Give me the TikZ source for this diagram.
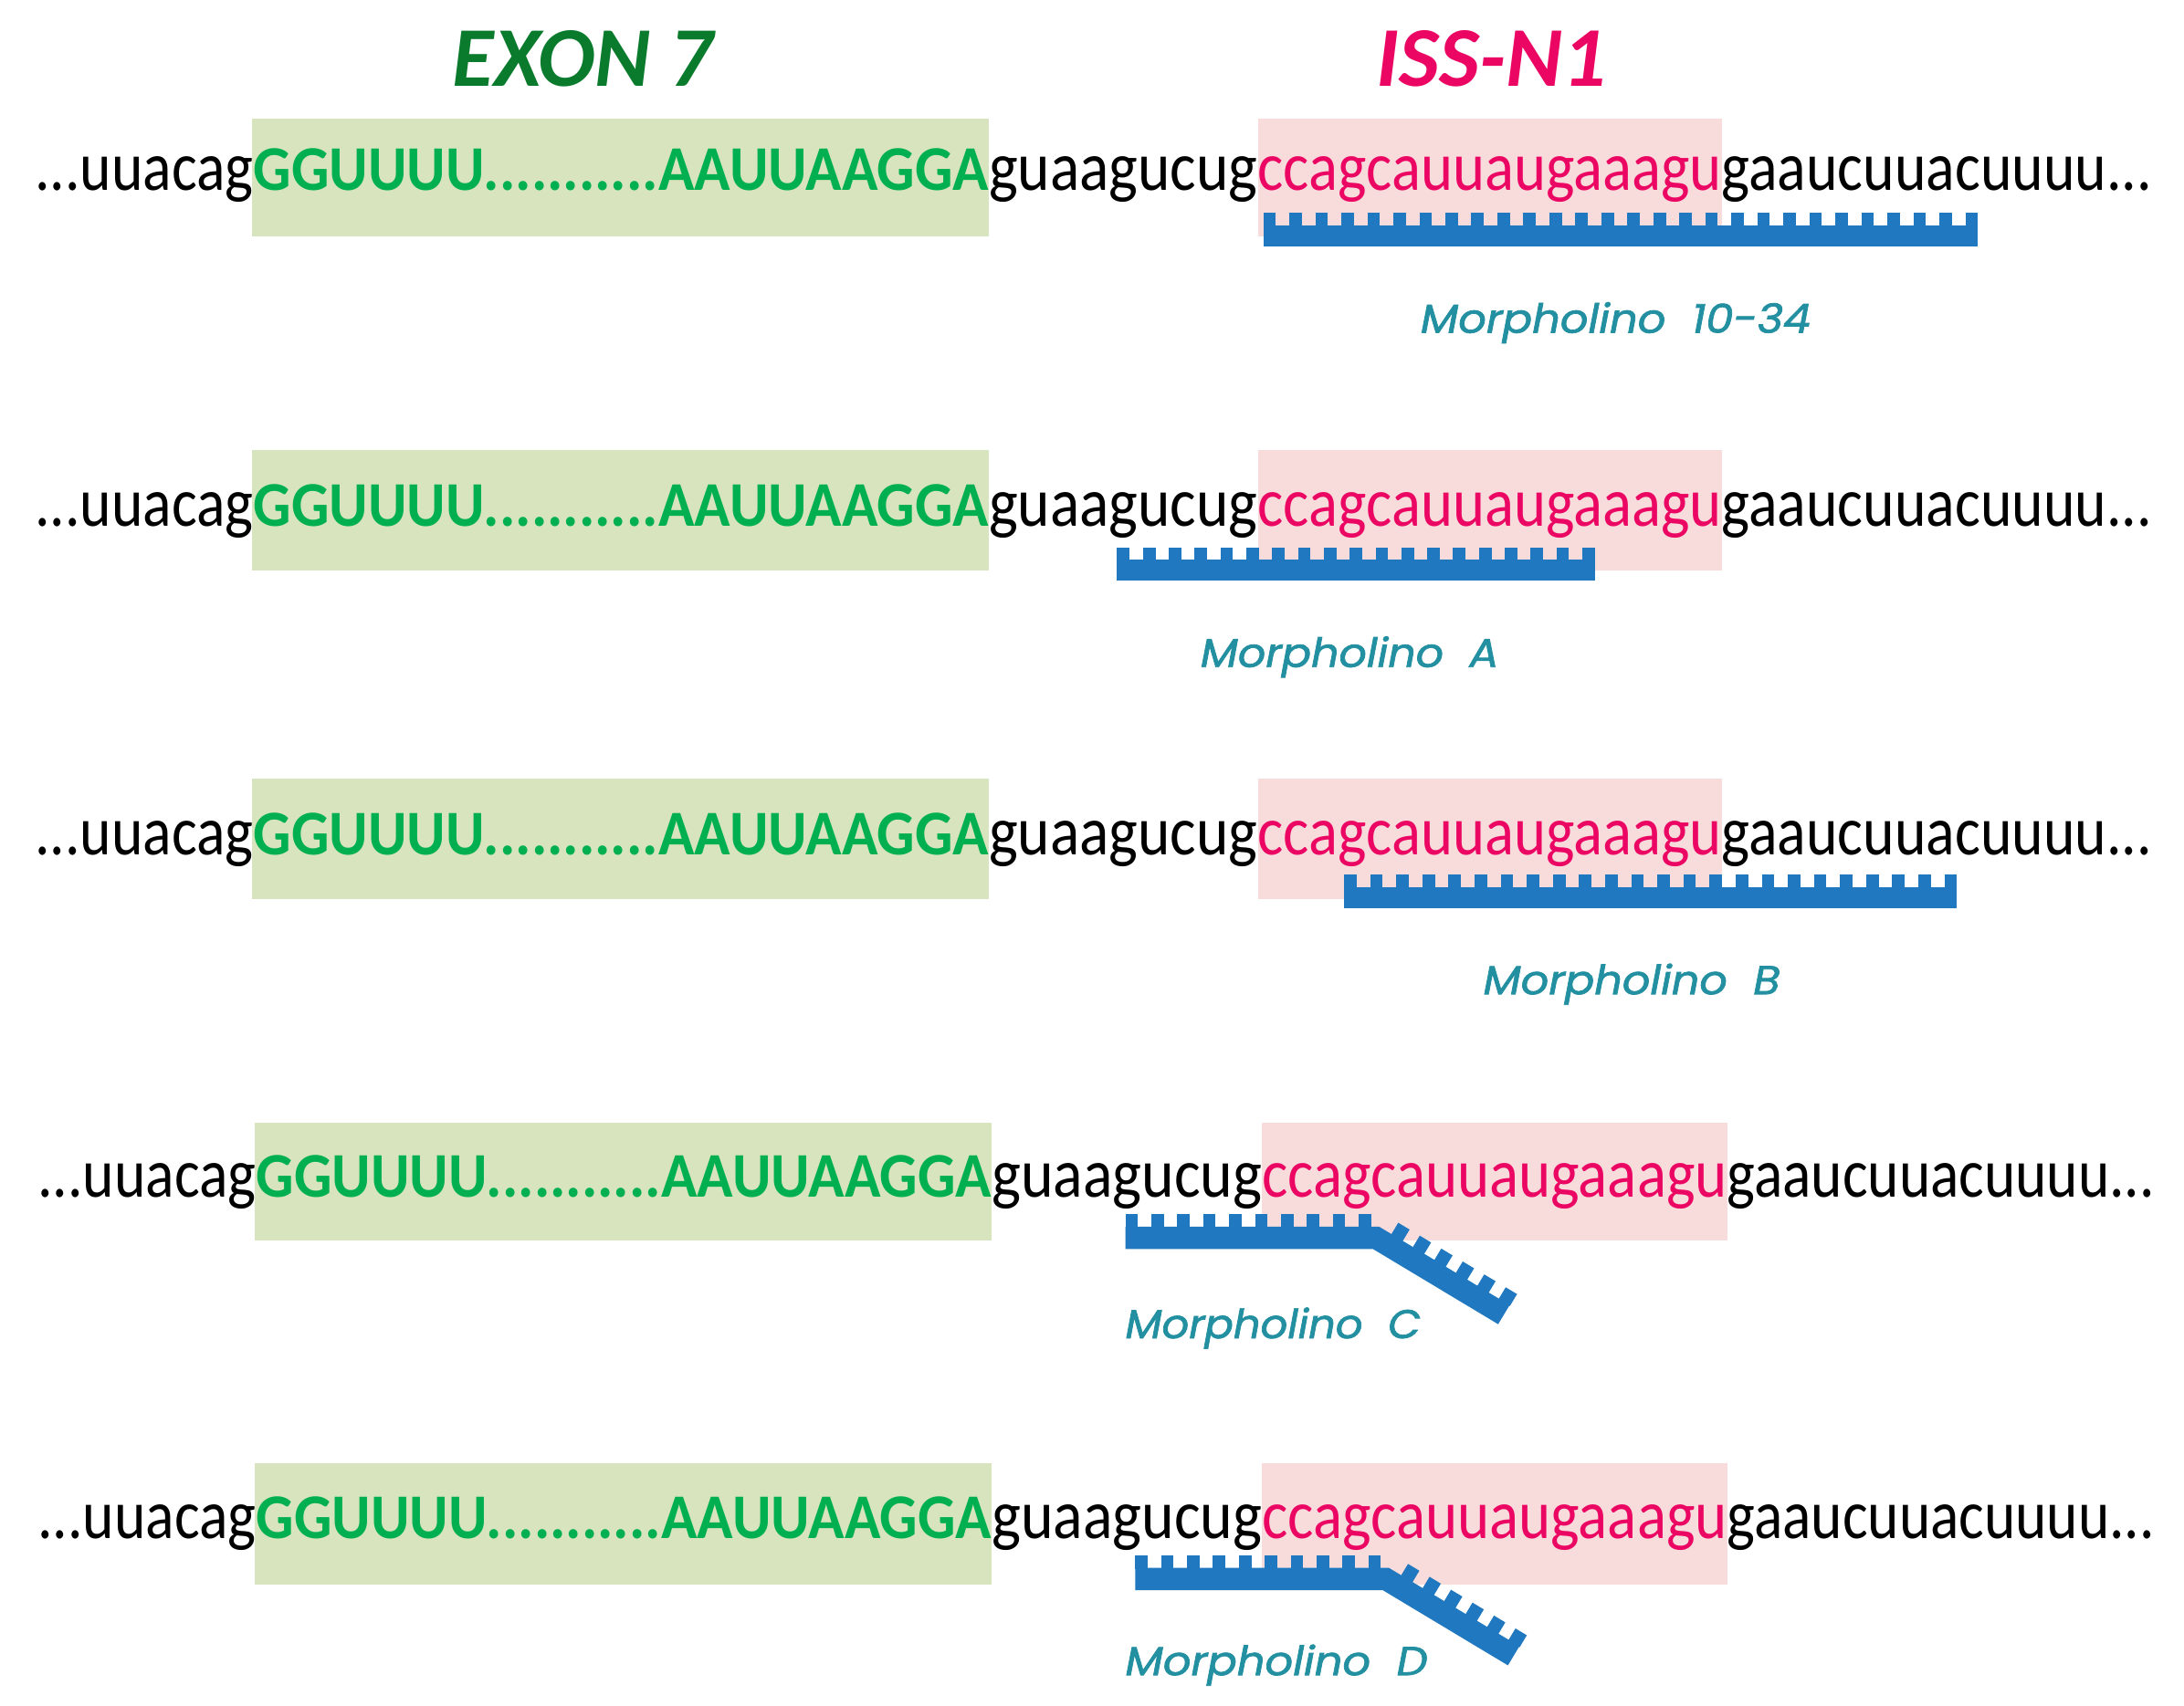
\documentclass[tikz,border=0pt]{standalone}
\usepackage{fontspec}
\usepackage{graphicx}
\setmainfont{Carlito}
\newfontfamily\lblfont[FakeBold=1.6]{Poppins}
\definecolor{exgreen}{HTML}{D7E4BD}
\definecolor{isspink}{HTML}{F8DCDC}
\definecolor{seqgreen}{HTML}{00B050}
\definecolor{seqpink}{HTML}{EC0663}
\definecolor{titgreen}{HTML}{0A7A2C}
\definecolor{morblue}{HTML}{1F78C0}
\definecolor{lblteal}{HTML}{2390A2}
\tikzset{
  seg/.style={anchor=base west, inner sep=0pt, outer sep=0pt},
  gbox/.style={fill=exgreen},
  pbox/.style={fill=isspink},
  morph/.style={fill=morblue},
  blk/.style={text=black},
  grn/.style={font=\bfseries, text=seqgreen},
  pnk/.style={text=seqpink},
  lbl/.style={font=\lblfont\itshape, text=lblteal},
}
% name, xl, xr, baseline, cap height, style, text
\newcommand\txtseg[7]{%
  \pgfmathsetlengthmacro\segW{(#3-#2)*0.015cm}%
  \pgfmathsetlengthmacro\segH{#5*0.015cm}%
  \node[seg, #6] (#1) at (#2,#4) {\resizebox{\segW}{\segH}{\vphantom{H}#7}};%
}
% id, baseline, six x boundaries
\newcommand\seqrow[8]{%
  \txtseg{s#1a}{#3}{#4}{#2}{32}{blk}{...uuacag}
  \txtseg{s#1b}{#4}{#5}{#2}{30}{grn}{GGUUUU...........AAUUAAGGA}
  \txtseg{s#1c}{#5}{#6}{#2}{32}{blk}{guaagucug}
  \txtseg{s#1d}{#6}{#7}{#2}{32}{pnk}{ccagcauuaugaaagu}
  \txtseg{s#1e}{#7}{#8}{#2}{32}{blk}{gaaucuuacuuuu...}
}
% straight morpholino: x0, x1, teeth top, number of teeth
\newcommand\morbar[4]{%
  \fill[morph] (#1,#3+9) rectangle (#2,#3+24);
  \pgfmathsetmacro\pitch{(#2-#1-9)/(#4-1)}%
  \pgfmathtruncatemacro\nlast{#4-1}%
  \foreach \i in {0,...,\nlast}{\fill[morph] ({#1+\i*\pitch},#3) rectangle ++(9,10);}
}
% bent morpholino: x0, xb, yc, angle, L2
\newcommand\bentbar[5]{%
  \draw[morblue, line width=0.24cm, line join=miter] (#1,#3) -- (#2,#3) -- ++(#4:#5);
  \foreach \i in {0,...,9}{\fill[morph] ({#1+\i*18.6},#3-17) rectangle ++(9,10);}
  \begin{scope}[shift={(#2,#3)}, rotate=-#4]
    \pgfmathsetmacro\dpitch{(#5-17)/5}%
    \foreach \j in {0,...,5}{\fill[morph] ({8+\j*\dpitch},-17.5) rectangle ++(9.5,10);}
  \end{scope}
}
\begin{document}
\begin{tikzpicture}[x=0.015cm, y=-0.015cm]
\fill[white] (0,0) rectangle (1568,1225);
\useasboundingbox (0,0) rectangle (1568,1225);

% highlight boxes
\fill[gbox] (181,85) rectangle (710,170);   \fill[pbox] (903,85) rectangle (1236,170);
\fill[gbox] (181,323) rectangle (710,410);  \fill[pbox] (903,323) rectangle (1236,410);
\fill[gbox] (181,559) rectangle (710,646);  \fill[pbox] (903,559) rectangle (1236,646);
\fill[gbox] (183,806) rectangle (712,891);  \fill[pbox] (906,806) rectangle (1240,891);
\fill[gbox] (183,1051) rectangle (712,1138);\fill[pbox] (906,1051) rectangle (1240,1138);

% titles
\txtseg{t1}{325}{512}{62}{40}{font=\bfseries\itshape, text=titgreen}{EXON 7}
\txtseg{t2}{988}{1153}{62}{40}{font=\bfseries\itshape, text=seqpink}{ISS-N1}

% sequences
\seqrow{1}{137}{25}{182}{710}{903}{1236}{1545}
\seqrow{2}{378}{25}{182}{710}{903}{1236}{1545}
\seqrow{3}{614}{25}{182}{710}{903}{1236}{1545}
\seqrow{4}{860}{27}{184}{712}{906}{1240}{1547}
\seqrow{5}{1105}{27}{184}{712}{906}{1240}{1547}

% morpholinos
\morbar{907}{1420}{153}{28}
\morbar{802}{1145}{393}{19}
\morbar{965}{1405}{628}{24}
\bentbar{808}{988}{889}{31}{107}
\bentbar{815}{995}{1134}{31}{107}

% labels
\txtseg{m1}{1020}{1300}{239}{22}{lbl}{Morpholino~~10-34}
\txtseg{m2}{862}{1076}{479}{22}{lbl}{Morpholino~~A}
\txtseg{m3}{1065}{1278}{714}{22}{lbl}{Morpholino~~B}
\txtseg{m4}{808}{1020}{961}{22}{lbl}{Morpholino~~C}
\txtseg{m5}{808}{1025}{1203}{22}{lbl}{Morpholino~~D}
\end{tikzpicture}
\end{document}
